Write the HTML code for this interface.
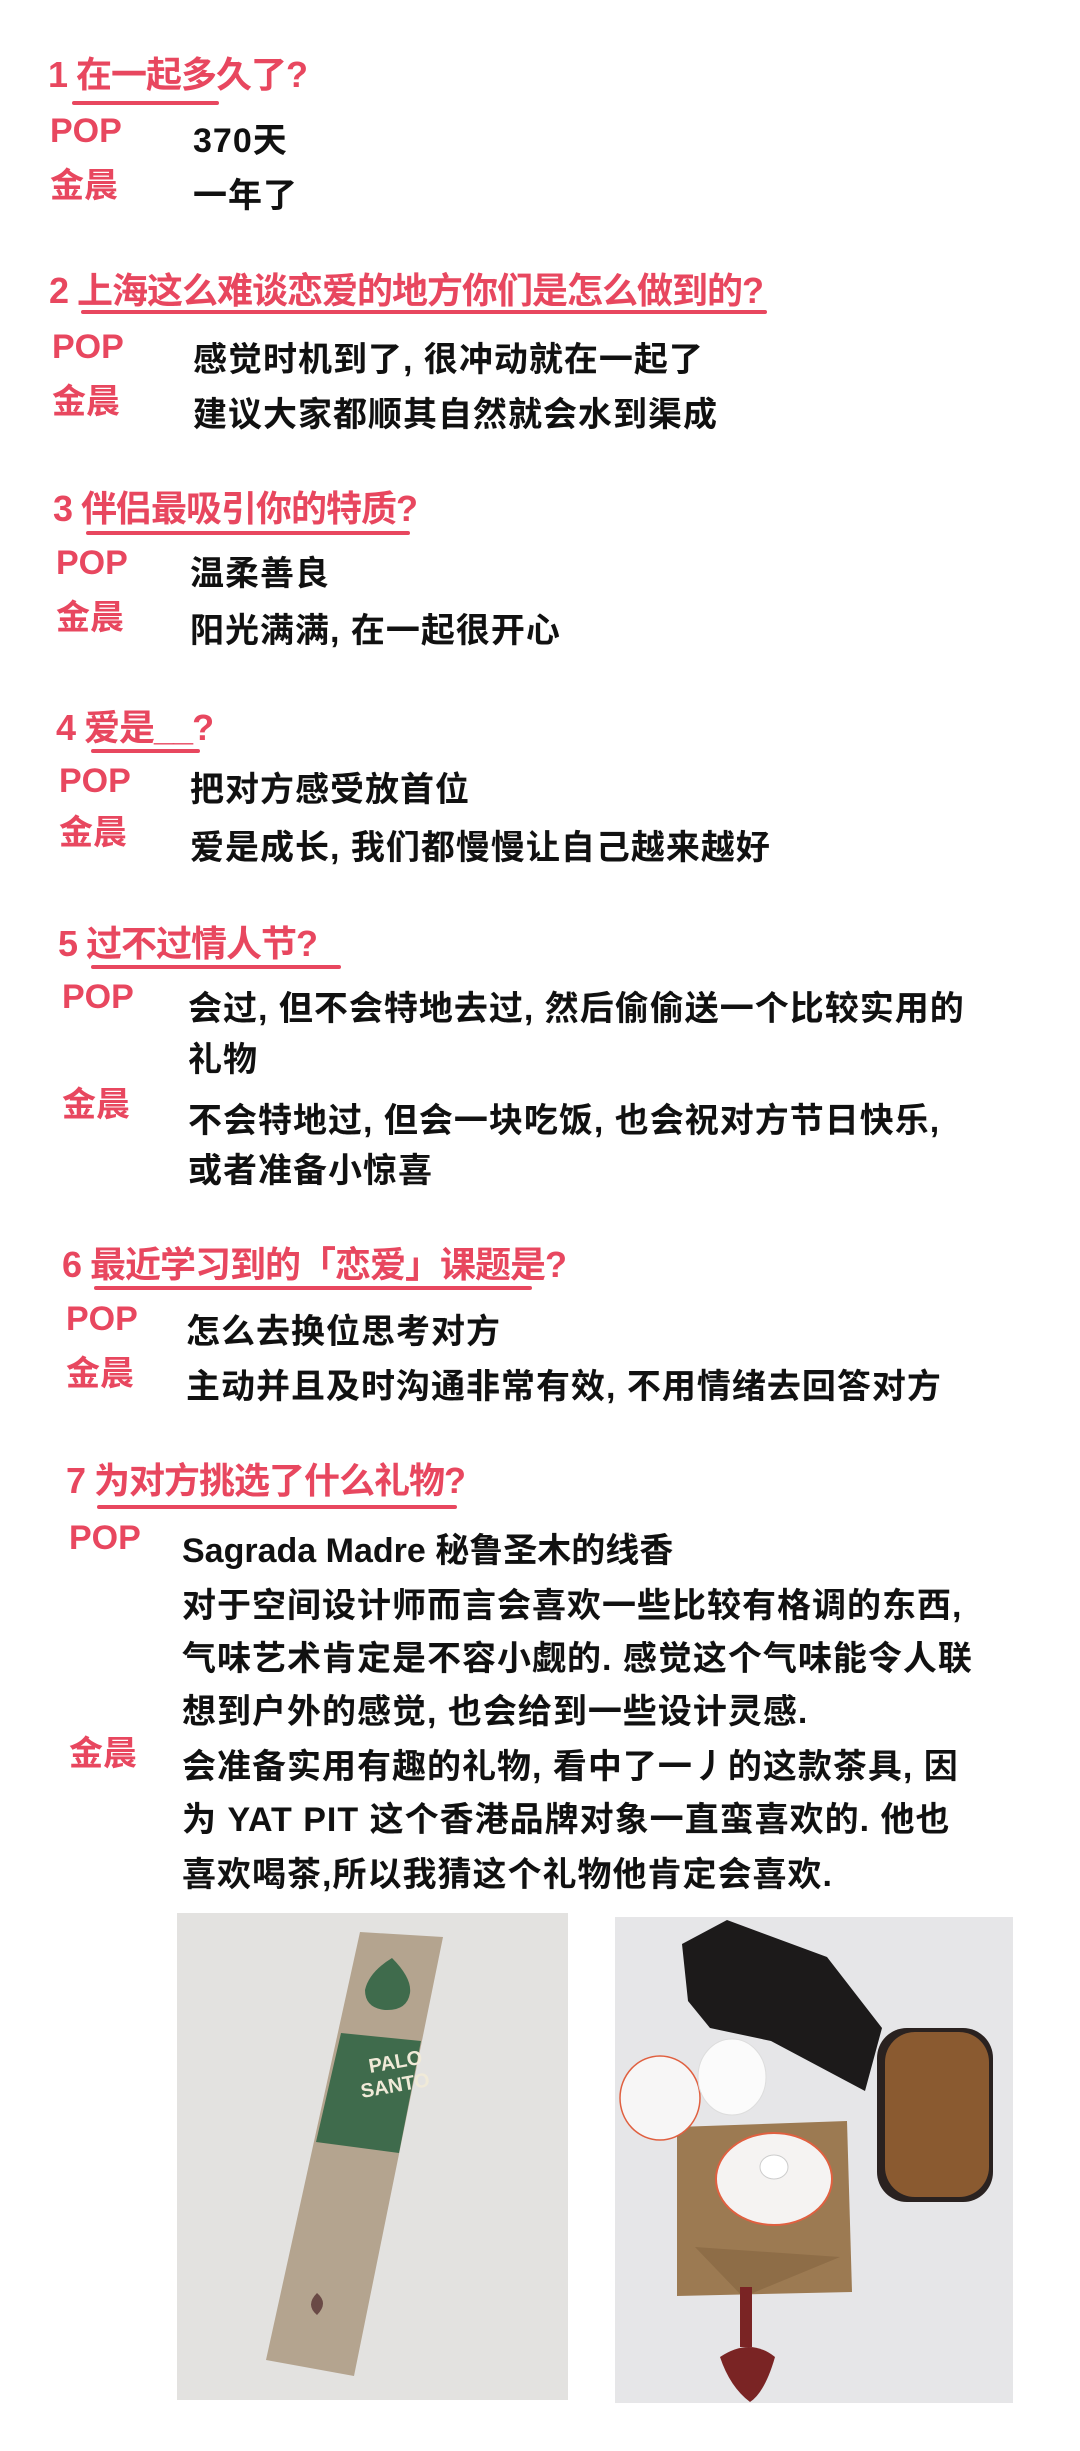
<!DOCTYPE html>
<html><head><meta charset="utf-8"><style>
html,body{margin:0;padding:0;background:#fff;}
body{width:1080px;height:2451px;position:relative;overflow:hidden;font-family:"Liberation Sans","Noto Sans CJK SC",sans-serif;}
.t{position:absolute;white-space:nowrap;line-height:1;font-weight:700;}
.q{color:#e8475f;font-size:36px;letter-spacing:-1px;}
.l{color:#e8475f;font-size:34px;}
.a{color:#111;font-size:34px;letter-spacing:1px;}
.u{position:absolute;height:4px;background:#e8475f;border-radius:2px;}
</style></head><body>
<div class="t q" style="left:48px;top:57px">1 在一起多久了?</div>
<div class="u" style="left:72px;top:101px;width:147px"></div>
<div class="t l" style="left:50px;top:114px">POP</div>
<div class="t a" style="left:193px;top:124px">370天</div>
<div class="t l" style="left:50px;top:169px">金晨</div>
<div class="t a" style="left:193px;top:179px">一年了</div>

<div class="t q" style="left:49px;top:273px">2 上海这么难谈恋爱的地方你们是怎么做到的?</div>
<div class="u" style="left:81px;top:310px;width:686px"></div>
<div class="t l" style="left:52px;top:330px">POP</div>
<div class="t a" style="left:193px;top:343px">感觉时机到了, 很冲动就在一起了</div>
<div class="t l" style="left:52px;top:385px">金晨</div>
<div class="t a" style="left:193px;top:398px">建议大家都顺其自然就会水到渠成</div>

<div class="t q" style="left:53px;top:491px">3 伴侣最吸引你的特质?</div>
<div class="u" style="left:86px;top:531px;width:324px"></div>
<div class="t l" style="left:56px;top:546px">POP</div>
<div class="t a" style="left:190px;top:557px">温柔善良</div>
<div class="t l" style="left:56px;top:601px">金晨</div>
<div class="t a" style="left:190px;top:614px">阳光满满, 在一起很开心</div>

<div class="t q" style="left:56px;top:710px">4 爱是__?</div>
<div class="u" style="left:91px;top:749px;width:109px"></div>
<div class="t l" style="left:59px;top:764px">POP</div>
<div class="t a" style="left:190px;top:773px">把对方感受放首位</div>
<div class="t l" style="left:59px;top:816px">金晨</div>
<div class="t a" style="left:190px;top:831px">爱是成长, 我们都慢慢让自己越来越好</div>

<div class="t q" style="left:58px;top:926px">5 过不过情人节?</div>
<div class="u" style="left:91px;top:965px;width:250px"></div>
<div class="t l" style="left:62px;top:980px">POP</div>
<div class="t a" style="left:188px;top:992px">会过, 但不会特地去过, 然后偷偷送一个比较实用的</div>
<div class="t a" style="left:188px;top:1043px">礼物</div>
<div class="t l" style="left:62px;top:1088px">金晨</div>
<div class="t a" style="left:188px;top:1104px">不会特地过, 但会一块吃饭, 也会祝对方节日快乐,</div>
<div class="t a" style="left:188px;top:1154px">或者准备小惊喜</div>

<div class="t q" style="left:62px;top:1247px">6 最近学习到的「恋爱」课题是?</div>
<div class="u" style="left:94px;top:1286px;width:438px"></div>
<div class="t l" style="left:66px;top:1302px">POP</div>
<div class="t a" style="left:186px;top:1315px">怎么去换位思考对方</div>
<div class="t l" style="left:66px;top:1357px">金晨</div>
<div class="t a" style="left:186px;top:1370px">主动并且及时沟通非常有效, 不用情绪去回答对方</div>

<div class="t q" style="left:66px;top:1463px">7 为对方挑选了什么礼物?</div>
<div class="u" style="left:97px;top:1505px;width:360px"></div>
<div class="t l" style="left:69px;top:1521px">POP</div>
<div class="t a" style="left:182px;top:1534px;letter-spacing:0">Sagrada Madre 秘鲁圣木的线香</div>
<div class="t a" style="left:182px;top:1589px">对于空间设计师而言会喜欢一些比较有格调的东西,</div>
<div class="t a" style="left:182px;top:1642px">气味艺术肯定是不容小觑的. 感觉这个气味能令人联</div>
<div class="t a" style="left:182px;top:1695px">想到户外的感觉, 也会给到一些设计灵感.</div>
<div class="t l" style="left:69px;top:1737px">金晨</div>
<div class="t a" style="left:182px;top:1750px">会准备实用有趣的礼物, 看中了一丿的这款茶具, 因</div>
<div class="t a" style="left:182px;top:1803px">为 YAT PIT 这个香港品牌对象一直蛮喜欢的. 他也</div>
<div class="t a" style="left:182px;top:1858px">喜欢喝茶,所以我猜这个礼物他肯定会喜欢.</div>

<svg style="position:absolute;left:177px;top:1913px" width="391" height="487" viewBox="0 0 391 487">
<rect width="391" height="487" fill="#e3e2e0"/>
<polygon points="183,19 266,24 177,463 89,447" fill="#b4a48f"/>
<polygon points="164,120 244,128 222,240 139,229" fill="#3f6b4c"/>
<path d="M215,45 q20,20 18,35 q-3,18 -25,17 q-20,-2 -20,-20 q4,-18 27,-32z" fill="#3f6b4c"/>
<text x="193" y="160" fill="#f0ead8" font-size="20" font-weight="700" font-family="Liberation Sans" transform="rotate(-10 193 160)">PALO</text>
<text x="185" y="185" fill="#f0ead8" font-size="20" font-weight="700" font-family="Liberation Sans" transform="rotate(-10 185 185)">SANTO</text>
<path d="M140,380 q12,10 0,22 q-12,-10 0,-22z" fill="#6a4a46"/>
</svg>

<svg style="position:absolute;left:615px;top:1917px" width="398" height="486" viewBox="0 0 398 486">
<rect width="398" height="486" fill="#e6e6e8"/>
<polygon points="67,27 112,3 212,40 267,111 250,174 156,124 95,111 73,84" fill="#1c1a1a"/>
<rect x="262" y="111" width="116" height="174" rx="30" fill="#2a2220"/>
<rect x="270" y="115" width="104" height="165" rx="30" fill="#8a5a30"/>
<polygon points="62,210 232,204 237,375 62,379" fill="#9c7a52"/>
<polygon points="80,330 225,340 128,380" fill="#8e6d47"/>
<ellipse cx="159" cy="262" rx="58" ry="46" fill="#f5f3f2" stroke="#e06040" stroke-width="2"/>
<ellipse cx="159" cy="250" rx="14" ry="12" fill="#fff" stroke="#ccc"/>
<ellipse cx="45" cy="181" rx="40" ry="42" fill="#f7f6f6" stroke="#e06040" stroke-width="1.5"/>
<ellipse cx="117" cy="160" rx="34" ry="38" fill="#fbfbfb" stroke="#ddd"/>
<rect x="125" y="370" width="12" height="60" fill="#7a2424"/>
<path d="M105,440 q30,-20 55,0 q-10,35 -25,45 q-20,-15 -30,-45z" fill="#7a2424"/>
</svg>
</body></html>
